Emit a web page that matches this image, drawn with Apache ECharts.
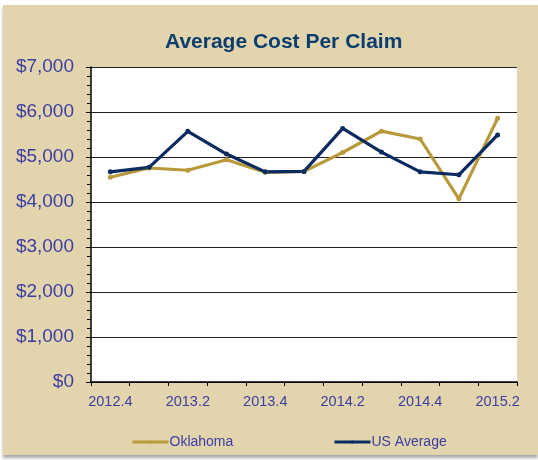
<!DOCTYPE html>
<html>
<head>
<meta charset="utf-8">
<script src="https://cdn.jsdelivr.net/npm/echarts@6/dist/echarts.min.js"></script>
<style>
  html, body { margin: 0; padding: 0; background: #fff; }
  #frame {
    position: absolute; left: 3px; top: 5px; width: 535px; height: 450px;
    background: #e2d5ae; box-shadow: 0 3px 3px rgba(0,0,0,0.35);
  }
  #chart { position: absolute; left: -3px; top: -5px; width: 538px; height: 460px; }
</style>
</head>
<body>
<div id="frame"><div id="chart"></div></div>
<script>
(function(){
    var myChart = echarts.init(document.getElementById('chart'));

    var quarters = ['2012.4', '2013.1', '2013.2', '2013.3', '2013.4', '2014.1',
                    '2014.2', '2014.3', '2014.4', '2015.1', '2015.2'];
    var oklahoma = [4550, 4755, 4705, 4940, 4660, 4680, 5100, 5575, 5400, 4070, 5860];
    var usAverage = [4670, 4770, 5570, 5065, 4670, 4680, 5635, 5110, 4670, 4605, 5490];

    var labelColor = '#3d3da3';
    var gold = '#b89a3a';
    var navy = '#0b2a60';

    var option = {
        backgroundColor: 'transparent',
        title: {
            text: 'Average Cost Per Claim',
            left: 160,
            top: 27,
            textStyle: { color: '#0b3d6e', fontSize: 21, fontWeight: 'bold', fontFamily: 'Liberation Sans' }
        },
        legend: [{
            left: 126, top: 430,
            itemWidth: 36, itemHeight: 4,
            data: ['Oklahoma'],
            lineStyle: { width: 3 },
            textStyle: { color: labelColor, fontSize: 14, fontFamily: 'Liberation Sans', padding: [0, 0, 0, -4] }
        }, {
            left: 328, top: 430,
            itemWidth: 36, itemHeight: 4,
            data: ['US Average'],
            lineStyle: { width: 3 },
            textStyle: { color: labelColor, fontSize: 14, fontFamily: 'Liberation Sans', padding: [0, 0, 0, -4] }
        }],
        grid: { left: 91, right: 21, top: 67, bottom: 78, show: true, backgroundColor: '#fff', borderWidth: 0 },
        xAxis: {
            type: 'category',
            data: quarters,
            boundaryGap: true,
            axisLine: { lineStyle: { color: '#000', width: 1.5 } },
            axisTick: { show: true, length: 4, interval: 0, lineStyle: { color: '#000' } },
            axisLabel: { interval: 1, color: labelColor, fontSize: 14.5, fontFamily: 'Liberation Sans', margin: 12 }
        },
        yAxis: {
            type: 'value',
            min: 0, max: 7000, interval: 1000,
            axisLine: { show: true, lineStyle: { color: '#000', width: 1.5 } },
            axisTick: { show: true, length: 5, lineStyle: { color: '#000' } },
            minorTick: { show: true, splitNumber: 5, length: 4, lineStyle: { color: '#000' } },
            splitLine: { lineStyle: { color: '#222', width: 1 } },
            axisLabel: {
                color: labelColor, fontSize: 19, fontFamily: 'Liberation Sans', margin: 17,
                formatter: function (v) { return '$' + v.toLocaleString('en-US'); }
            }
        },
        series: [{
            name: 'Oklahoma',
            type: 'line',
            data: oklahoma,
            symbol: 'circle', symbolSize: 5,
            lineStyle: { color: gold, width: 3.2 },
            itemStyle: { color: gold }
        }, {
            name: 'US Average',
            type: 'line',
            data: usAverage,
            symbol: 'circle', symbolSize: 5,
            lineStyle: { color: navy, width: 3.2 },
            itemStyle: { color: navy }
        }]
    };

    myChart.setOption(option);
})()
</script>
</body>
</html>
